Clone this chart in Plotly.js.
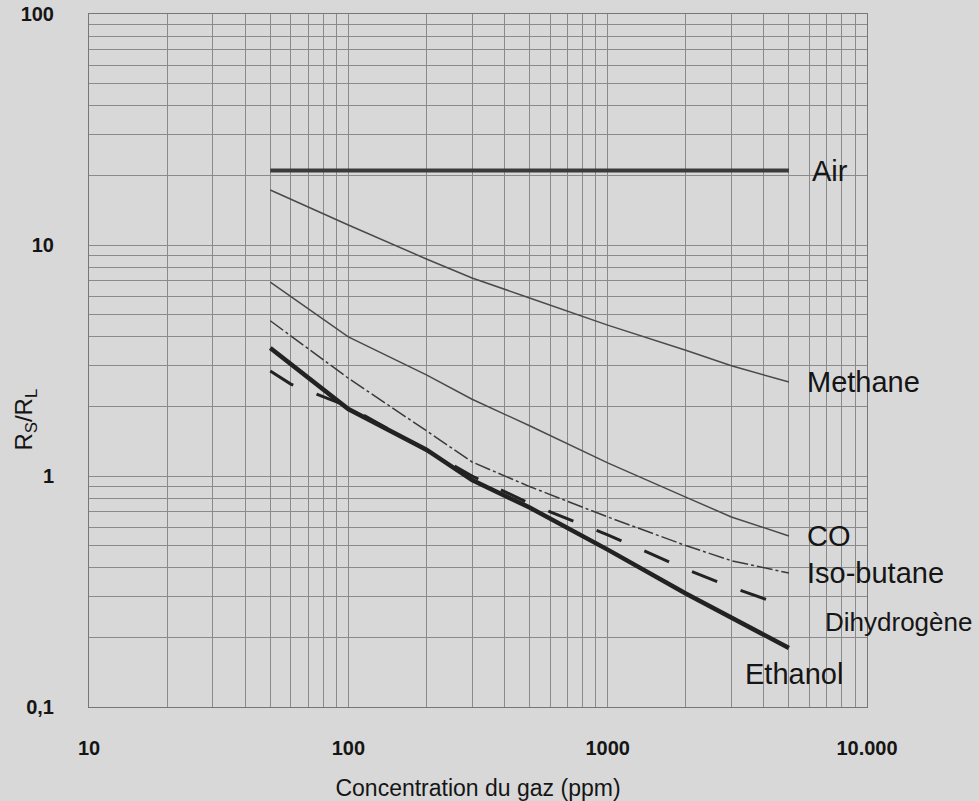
<!DOCTYPE html>
<html><head><meta charset="utf-8">
<script src="https://cdn.plot.ly/plotly-3.0.1.min.js"></script>
<style>html,body{margin:0;padding:0;background:#d8d8d8}</style>
</head><body><div id="chart" style="width:979px;height:801px"></div>
<script>
// ---- data ----
const concentration = [50, 100, 200, 300, 500, 1000, 2000, 3000, 5000];
const airX = [50, 5000];
const airY = [21, 21];
const methane = [17.3, 12.2, 8.7, 7.2, 5.9, 4.5, 3.5, 3.0, 2.55];
const co = [6.9, 4.0, 2.74, 2.15, 1.65, 1.14, 0.81, 0.665, 0.55];
const isobutane = [4.7, 2.65, 1.57, 1.15, 0.90, 0.665, 0.50, 0.43, 0.38];
const ethanol = [3.58, 1.95, 1.30, 0.96, 0.73, 0.48, 0.31, 0.245, 0.18];
const h2X = [50, 60, 100, 300, 500, 1000, 2000, 3000, 5000];
const h2 = [2.85, 2.5, 2.0, 1.0, 0.76, 0.556, 0.395, 0.33, 0.27];
const xTickVals = [10, 100, 1000, 10000];
const xTickText = ['10', '100', '1000', '10.000'];
const yTickVals = [0.1, 1, 10, 100];
const yTickText = ['0,1', '1', '10', '100'];
const seriesLabels = ['Air', 'Methane', 'CO', 'Iso-butane', 'Dihydrogène', 'Ethanol'];
const xTitle = 'Concentration du gaz (ppm)';
const yTitle = 'R<sub>S</sub>/R<sub>L</sub>';

const FONT = 'Liberation Sans, Arial, sans-serif';
const BG = '#d8d8d8';
const GRID = '#8a8a8a';

const traces = [
  {x: airX, y: airY, mode: 'lines', line: {color: '#3a3a3a', width: 4}},
  {x: concentration, y: methane, mode: 'lines', line: {color: '#4a4a4a', width: 1.5}},
  {x: concentration, y: co, mode: 'lines', line: {color: '#4a4a4a', width: 1.5}},
  {x: concentration, y: isobutane, mode: 'lines', line: {color: '#3a3a3a', width: 1.5, dash: '16px,3px,3px,3px'}},
  {x: h2X, y: h2, mode: 'lines', line: {color: '#222', width: 3, dash: '27px,25px'}},
  {x: concentration, y: ethanol, mode: 'lines', line: {color: '#222', width: 4.5}}
];
traces.forEach(t => { t.showlegend = false; t.hoverinfo = 'skip'; });

// label anchors: end of each series
const ends = [
  [airX[airX.length-1], airY[airY.length-1]],
  [concentration[8], methane[8]],
  [concentration[8], co[8]],
  [concentration[8], isobutane[8]],
  [h2X[h2X.length-1], h2[h2.length-1]],
  [concentration[8], ethanol[8]]
];
const labelStyle = [
  {xshift: 21, yshift: 0, size: 29},
  {xshift: 16, yshift: 0, size: 29},
  {xshift: 16, yshift: 0, size: 29},
  {xshift: 16, yshift: 0, size: 29},
  {xshift: 34, yshift: -15, size: 26},
  {xshift: -46, yshift: -26, size: 29}
];
const annotations = seriesLabels.map((s, i) => ({
  x: Math.log10(ends[i][0]), y: Math.log10(ends[i][1]), xref: 'x', yref: 'y',
  text: s, showarrow: false, xanchor: 'left', yanchor: 'middle',
  xshift: labelStyle[i].xshift, yshift: labelStyle[i].yshift,
  font: {family: FONT, size: labelStyle[i].size, color: '#151515'}
}));
// y axis title (rotated)
annotations.push({
  xref: 'paper', yref: 'paper', x: -0.082, y: 0.415, xanchor: 'center', yanchor: 'middle',
  text: yTitle, textangle: -90, showarrow: false,
  font: {family: FONT, size: 24, color: '#151515'}
});

const layout = {
  width: 979, height: 801,
  margin: {l: 89, r: 112, t: 14, b: 94},
  paper_bgcolor: BG, plot_bgcolor: BG,
  showlegend: false,
  annotations: annotations,
  xaxis: {
    type: 'log', range: [1, 4], autorange: false,
    tickmode: 'array', tickvals: xTickVals, ticktext: xTickText,
    ticks: '', ticklabelstandoff: 23,
    tickfont: {family: FONT, size: 20, color: '#151515', weight: 'bold'},
    showgrid: true, gridcolor: GRID, gridwidth: 1,
    minor: {dtick: 'D1', showgrid: true, gridcolor: GRID, gridwidth: 1, ticks: ''},
    showline: true, mirror: true, linecolor: '#777', linewidth: 1,
    zeroline: false,
    title: {text: xTitle, standoff: 21,
            font: {family: FONT, size: 23, color: '#151515'}}
  },
  yaxis: {
    type: 'log', range: [-1, 2], autorange: false,
    tickmode: 'array', tickvals: yTickVals, ticktext: yTickText,
    ticks: '', ticklabelstandoff: 30,
    tickfont: {family: FONT, size: 20, color: '#151515', weight: 'bold'},
    showgrid: true, gridcolor: GRID, gridwidth: 1,
    minor: {dtick: 'D1', showgrid: true, gridcolor: GRID, gridwidth: 1, ticks: ''},
    showline: true, mirror: true, linecolor: '#777', linewidth: 1,
    zeroline: false
  }
};

Plotly.newPlot('chart', traces, layout, {displayModeBar: false, staticPlot: true});
</script>
</body></html>
